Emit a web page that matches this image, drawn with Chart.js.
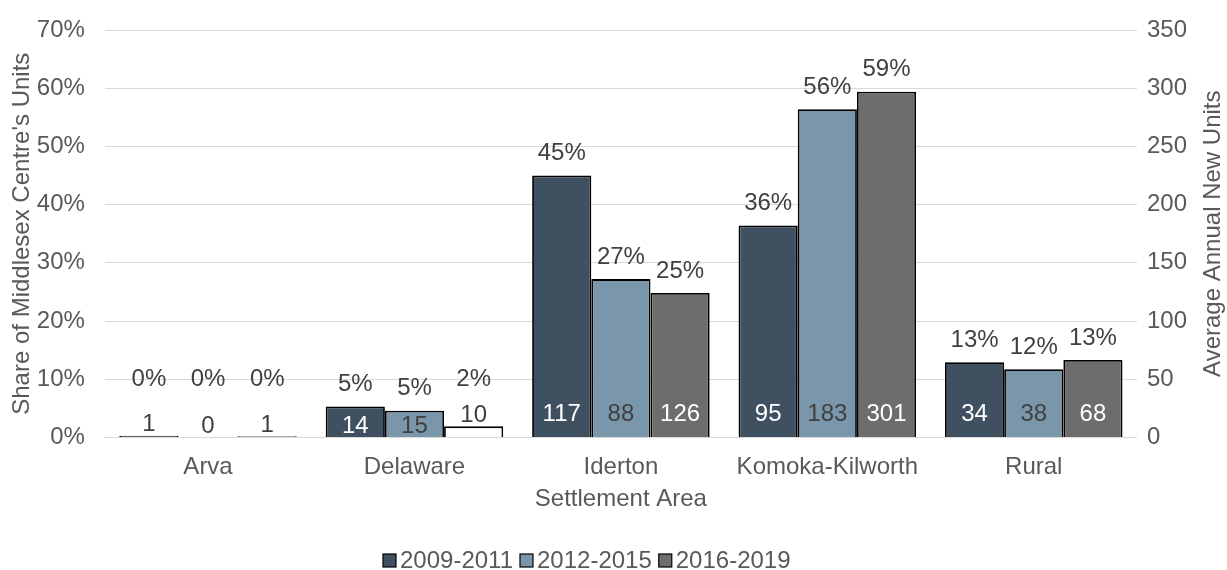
<!DOCTYPE html>
<html>
<head>
<meta charset="utf-8">
<script src="https://cdn.jsdelivr.net/npm/chart.js@4/dist/chart.umd.min.js"></script>
<style>
  html, body { margin: 0; padding: 0; background: #fff; }
  #wrap { width: 1227px; height: 570px; }
</style>
</head>
<body>
<div id="wrap"><canvas id="chart"></canvas></div>
<script>
// data
const areas = ['Arva', 'Delaware', 'Iderton', 'Komoka-Kilworth', 'Rural'];
const periods = ['2009-2011', '2012-2015', '2016-2019'];

// share of Middlesex Centre's units (%), one array per period
const share0911 = [0.3, 5.3, 45.0, 36.4, 12.9];
const share1215 = [0, 4.6, 27.2, 56.4, 11.7];
const share1619 = [0.2, 1.9, 24.8, 59.4, 13.3];

// average annual new units
const units0911 = [1, 14, 117, 95, 34];
const units1215 = [0, 15, 88, 183, 38];
const units1619 = [1, 10, 126, 301, 68];

const leftTicks = [0, 10, 20, 30, 40, 50, 60, 70];
const rightTicks = [0, 50, 100, 150, 200, 250, 300, 350];

const colors = ['#3f5061', '#7a96ab', '#6d6d6d'];

const FONT = "'Liberation Sans', Arial, sans-serif";
const TEXT = '#595959';
const SIZE = 24;

// bar labels, right axis title and the legend
const extras = {
  id: 'extras',
  afterDatasetsDraw(chart) {
    const ctx = chart.ctx;
    const base = chart.scales.y.getPixelForValue(0);
    ctx.save();
    ctx.textAlign = 'center';
    ctx.textBaseline = 'middle';
    ctx.font = SIZE + 'px ' + FONT;
    chart.data.datasets.forEach((ds, di) => {
      chart.getDatasetMeta(di).data.forEach((bar, i) => {
        const top = bar.y;
        const h = base - top;
        // units: inside the base, or just above a very short bar
        let uy = base - 23;
        if (h <= 20) uy = top - 11;
        else if (h <= 45) uy = base - 11;
        ctx.fillStyle = h > 20 && ds.darkBar ? '#ffffff' : '#404040';
        ctx.fillText(ds.units[i], bar.x, uy);
        // percent
        const pctY = h > 20 ? top - 22 : Math.min(top - 22, base - 58);
        ctx.fillStyle = '#404040';
        ctx.fillText(Math.round(ds.data[i]) + '%', bar.x, pctY);
      });
    });

    // right axis title, reading bottom to top
    const area = chart.chartArea;
    ctx.save();
    ctx.translate(1213, (area.top + area.bottom) / 2);
    ctx.rotate(-Math.PI / 2);
    ctx.fillStyle = TEXT;
    ctx.fillText('Average Annual New Units', 0, 0);
    ctx.restore();

    // legend
    ctx.textAlign = 'left';
    let x = 383;
    const y = 561;
    periods.forEach((p, k) => {
      ctx.fillStyle = colors[k];
      ctx.fillRect(x, y - 7, 13, 13);
      ctx.strokeStyle = '#000';
      ctx.lineWidth = 1.2;
      ctx.strokeRect(x, y - 7, 13, 13);
      ctx.fillStyle = TEXT;
      ctx.fillText(p, x + 17, y);
      x += 17 + ctx.measureText(p).width + 7;
    });
    ctx.restore();
  }
};

// tick padding should not push the plot area down
function trimTop(axis) { axis.paddingTop = 12; }

new Chart(document.getElementById('chart'), {
  type: 'bar',
  data: {
    labels: areas,
    datasets: [
      {
        label: periods[0], data: share0911, units: units0911, darkBar: true,
        backgroundColor: colors[0], borderColor: '#000', borderWidth: 1.8
      },
      {
        label: periods[1], data: share1215, units: units1215, darkBar: false,
        backgroundColor: colors[1], borderColor: '#000', borderWidth: 1.8
      },
      {
        label: periods[2], data: share1619, units: units1619, darkBar: true,
        backgroundColor: [colors[2], '#ffffff', colors[2], colors[2], colors[2]],
        borderColor: '#000', borderWidth: 1.8
      }
    ]
  },
  options: {
    responsive: true,
    maintainAspectRatio: false,
    animation: false,
    categoryPercentage: 0.86,
    barPercentage: 1,
    layout: { padding: { top: 30, right: 30, left: 8, bottom: 56 } },
    scales: {
      x: {
        grid: { display: false },
        border: { color: '#d9d9d9' },
        ticks: { color: TEXT, font: { family: FONT, size: SIZE }, padding: 8 },
        title: { display: true, text: 'Settlement Area', color: TEXT, font: { family: FONT, size: SIZE }, padding: { top: -5, bottom: 0 } }
      },
      y: {
        min: 0, max: 70,
        afterBuildTicks(axis) { axis.ticks = leftTicks.map(v => ({ value: v })); },
        afterFit: trimTop,
        grid: { color: '#d9d9d9', drawTicks: false },
        border: { display: false },
        ticks: { color: TEXT, font: { family: FONT, size: SIZE }, padding: 20, callback: v => v + '%' },
        title: { display: true, text: "Share of Middlesex Centre's Units", color: TEXT, font: { family: FONT, size: SIZE }, padding: { top: 0, bottom: -20 } }
      },
      y2: {
        position: 'right',
        min: 0, max: 350,
        afterBuildTicks(axis) { axis.ticks = rightTicks.map(v => ({ value: v })); },
        afterFit: trimTop,
        grid: { display: false, drawTicks: false },
        border: { display: false },
        ticks: { color: TEXT, font: { family: FONT, size: SIZE }, padding: 10 }
      }
    },
    plugins: {
      legend: { display: false },
      tooltip: { enabled: false }
    }
  },
  plugins: [extras]
});
</script>
</body>
</html>
